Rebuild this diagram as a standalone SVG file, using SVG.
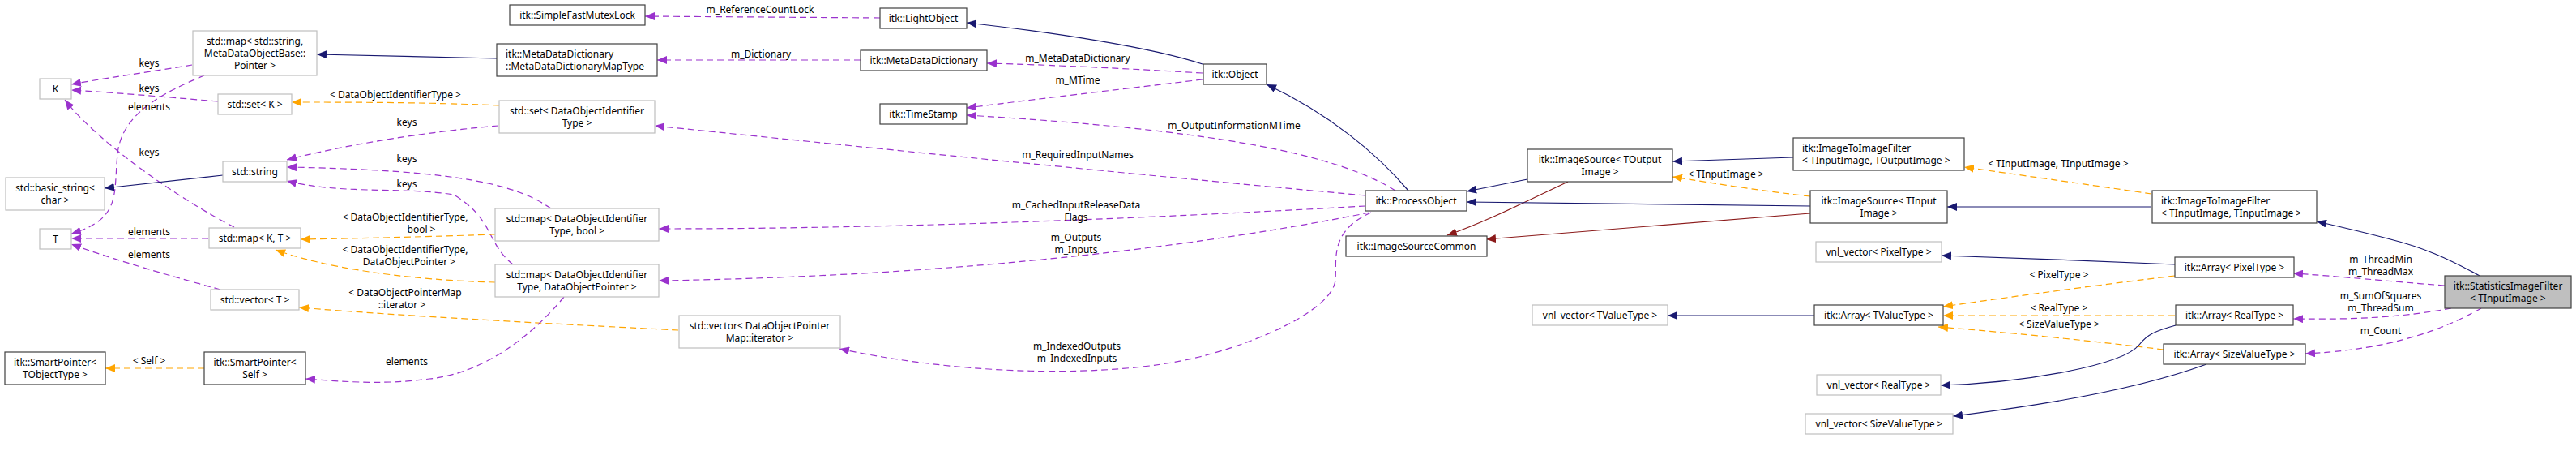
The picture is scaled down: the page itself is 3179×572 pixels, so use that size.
<svg xmlns="http://www.w3.org/2000/svg" width="3179" height="572" viewBox="0 0 3179 572">
<style>
text{font-family:"Noto Sans","DejaVu Sans",sans-serif;font-size:12px;fill:#000}
.n rect{fill:#fff;stroke:#404040;stroke-width:1.2}
.g rect{fill:#fff;stroke:#bfbfbf;stroke-width:1.2}
.c{text-anchor:middle}
.e{fill:none;stroke-width:1.2}
.b{stroke:#191970}
.r{stroke:#8b1a1a}
.p{stroke:#9a32cd;stroke-dasharray:8,5}
.o{stroke:#ffa500;stroke-dasharray:8,5}
.l{text-anchor:middle}
</style>
<defs>
<marker id="mb" markerWidth="12" markerHeight="10" refX="12" refY="5" orient="auto" markerUnits="userSpaceOnUse"><path d="M0,0L12,5L0,10z" fill="#191970"/></marker>
<marker id="mr" markerWidth="12" markerHeight="10" refX="12" refY="5" orient="auto" markerUnits="userSpaceOnUse"><path d="M0,0L12,5L0,10z" fill="#8b1a1a"/></marker>
<marker id="mp" markerWidth="12" markerHeight="10" refX="12" refY="5" orient="auto" markerUnits="userSpaceOnUse"><path d="M0,0L12,5L0,10z" fill="#9a32cd"/></marker>
<marker id="mo" markerWidth="12" markerHeight="10" refX="12" refY="5" orient="auto" markerUnits="userSpaceOnUse"><path d="M0,0L12,5L0,10z" fill="#ffa500"/></marker>
</defs>
<g id="connectors">
<path class="e b" marker-end="url(#mb)" d="M613,72 L391,67"/>
<path class="e p" marker-end="url(#mp)" d="M237,80 C190,88 130,96 88,104"/>
<text class="l" x="184" y="82">keys</text>
<path class="e p" marker-end="url(#mp)" d="M269,125 C210,120 140,114 88,111"/>
<text class="l" x="184" y="113">keys</text>
<path class="e p" marker-end="url(#mp)" d="M252,93 C200,115 150,140 145,190 C140,240 150,270 88,288"/>
<text class="l" x="184" y="136">elements</text>
<path class="e p" marker-end="url(#mp)" d="M289,280 C220,245 120,175 80,123"/>
<text class="l" x="184" y="192">keys</text>
<path class="e p" marker-end="url(#mp)" d="M257,294 L88,294"/>
<text class="l" x="184" y="290">elements</text>
<path class="e p" marker-end="url(#mp)" d="M272,357 C210,340 140,320 88,301"/>
<text class="l" x="184" y="318">elements</text>
<path class="e b" marker-end="url(#mb)" d="M275,216 L129,232"/>
<path class="e o" marker-end="url(#mo)" d="M616,130 C530,126 430,126 360,126"/>
<text class="l" x="488" y="121">&lt; DataObjectIdentifierType &gt;</text>
<path class="e p" marker-end="url(#mp)" d="M615,155 C520,163 420,180 354,197"/>
<text class="l" x="502" y="155">keys</text>
<path class="e p" marker-end="url(#mp)" d="M680,257 C640,230 580,210 354,206"/>
<text class="l" x="502" y="200">keys</text>
<path class="e p" marker-end="url(#mp)" d="M633,326 C600,300 610,270 560,240 C500,230 420,240 354,223"/>
<text class="l" x="502" y="231">keys</text>
<path class="e o" marker-end="url(#mo)" d="M611,289 C520,292 440,294 371,295"/>
<text class="l" x="500" y="272">&lt; DataObjectIdentifierType,</text>
<text class="l" x="520" y="287">bool &gt;</text>
<path class="e o" marker-end="url(#mo)" d="M611,348 C500,345 400,330 340,308"/>
<text class="l" x="500" y="312">&lt; DataObjectIdentifierType,</text>
<text class="l" x="505" y="327">DataObjectPointer &gt;</text>
<path class="e o" marker-end="url(#mo)" d="M837,407 C700,400 500,390 369,379"/>
<text class="l" x="500" y="365">&lt; DataObjectPointerMap</text>
<text class="l" x="496" y="380">::iterator &gt;</text>
<path class="e p" marker-end="url(#mp)" d="M696,366 C660,410 600,460 530,467 C470,475 420,470 377,467"/>
<text class="l" x="502" y="450">elements</text>
<path class="e o" marker-end="url(#mo)" d="M252,454 L130,454"/>
<text class="l" x="184" y="449">&lt; Self &gt;</text>
<path class="e p" marker-end="url(#mp)" d="M1086,22 L796,20"/>
<text class="l" x="938" y="16">m_ReferenceCountLock</text>
<path class="e p" marker-end="url(#mp)" d="M1484,90 C1400,85 1300,80 1218,78"/>
<text class="l" x="1330" y="76">m_MetaDataDictionary</text>
<path class="e p" marker-end="url(#mp)" d="M1062,74 L811,74"/>
<text class="l" x="939" y="71">m_Dictionary</text>
<path class="e p" marker-end="url(#mp)" d="M1484,98 C1400,108 1280,122 1193,133"/>
<text class="l" x="1330" y="103">m_MTime</text>
<path class="e b" marker-end="url(#mb)" d="M1484,79 C1420,58 1300,40 1193,28"/>
<path class="e b" marker-end="url(#mb)" d="M1738,235 C1700,190 1640,140 1563,104"/>
<path class="e p" marker-end="url(#mp)" d="M1722,235 C1650,190 1500,160 1193,142"/>
<text class="l" x="1523" y="159">m_OutputInformationMTime</text>
<path class="e p" marker-end="url(#mp)" d="M1685,241 C1400,215 1100,185 808,155"/>
<text class="l" x="1330" y="195">m_RequiredInputNames</text>
<path class="e p" marker-end="url(#mp)" d="M1685,254 C1400,270 1100,282 813,282"/>
<text class="l" x="1328" y="257">m_CachedInputReleaseData</text>
<text class="l" x="1328" y="272">Flags</text>
<path class="e p" marker-end="url(#mp)" d="M1690,262 C1500,300 1200,340 813,346"/>
<text class="l" x="1328" y="297">m_Outputs</text>
<text class="l" x="1328" y="312">m_Inputs</text>
<path class="e p" marker-end="url(#mp)" d="M1692,262 C1640,285 1650,320 1648,345 C1645,380 1560,420 1480,440 C1380,465 1200,465 1036,430"/>
<text class="l" x="1329" y="431">m_IndexedOutputs</text>
<text class="l" x="1329" y="446">m_IndexedInputs</text>
<path class="e b" marker-end="url(#mb)" d="M1885,221 L1810,236"/>
<path class="e r" marker-end="url(#mr)" d="M1935,224 C1880,250 1830,275 1786,290"/>
<path class="e b" marker-end="url(#mb)" d="M2234,254 L1810,249"/>
<path class="e r" marker-end="url(#mr)" d="M2234,263 L1834,295"/>
<path class="e o" marker-end="url(#mo)" d="M2234,242 C2170,235 2110,225 2064,218"/>
<text class="l" x="2130" y="219">&lt; TInputImage &gt;</text>
<path class="e b" marker-end="url(#mb)" d="M2213,194 L2064,199"/>
<path class="e o" marker-end="url(#mo)" d="M2655,239 C2580,228 2480,214 2424,206"/>
<text class="l" x="2540" y="206">&lt; TInputImage, TInputImage &gt;</text>
<path class="e b" marker-end="url(#mb)" d="M2655,255 L2403,255"/>
<path class="e b" marker-end="url(#mb)" d="M3060,340 C3020,318 2990,305 2950,295 C2920,287 2890,280 2859,273"/>
<path class="e p" marker-end="url(#mp)" d="M3017,352 C2950,347 2880,340 2830,337"/>
<text class="l" x="2938" y="324">m_ThreadMin</text>
<text class="l" x="2938" y="339">m_ThreadMax</text>
<path class="e p" marker-end="url(#mp)" d="M3025,380 C2960,392 2900,394 2830,393"/>
<text class="l" x="2938" y="369">m_SumOfSquares</text>
<text class="l" x="2938" y="384">m_ThreadSum</text>
<path class="e p" marker-end="url(#mp)" d="M3062,380 C3000,415 2930,432 2845,436"/>
<text class="l" x="2938" y="412">m_Count</text>
<path class="e b" marker-end="url(#mb)" d="M2684,326 C2600,322 2480,318 2396,315"/>
<path class="e o" marker-end="url(#mo)" d="M2684,340 C2600,350 2480,366 2398,378"/>
<text class="l" x="2541" y="343">&lt; PixelType &gt;</text>
<path class="e o" marker-end="url(#mo)" d="M2684,389 L2398,389"/>
<text class="l" x="2541" y="384">&lt; RealType &gt;</text>
<path class="e o" marker-end="url(#mo)" d="M2670,431 C2580,420 2480,410 2392,403"/>
<text class="l" x="2541" y="404">&lt; SizeValueType &gt;</text>
<path class="e b" marker-end="url(#mb)" d="M2685,401 C2660,408 2650,412 2640,425 C2620,450 2500,472 2395,475"/>
<path class="e b" marker-end="url(#mb)" d="M2723,449 C2660,472 2560,495 2410,513"/>
<path class="e b" marker-end="url(#mb)" d="M2239,389 L2058,389"/>
</g>
<g id="n_mapstr" class="g"><rect x="238" y="38" width="153" height="55"/><text class="c" x="314.5" y="55">std::map&lt; std::string,</text><text class="c" x="314.5" y="70">MetaDataObjectBase::</text><text class="c" x="314.5" y="85">Pointer &gt;</text></g>
<g id="n_K" class="g"><rect x="49" y="97" width="39" height="25"/><text class="c" x="68.5" y="114">K</text></g>
<g id="n_setK" class="g"><rect x="269" y="116" width="91" height="25"/><text class="c" x="314.5" y="133">std::set&lt; K &gt;</text></g>
<g id="n_string" class="g"><rect x="275" y="199" width="79" height="25"/><text class="c" x="314.5" y="216">std::string</text></g>
<g id="n_basic" class="g"><rect x="7" y="219" width="122" height="40"/><text class="c" x="68" y="236">std::basic_string&lt;</text><text class="c" x="68" y="251">char &gt;</text></g>
<g id="n_T" class="g"><rect x="49" y="282" width="39" height="25"/><text class="c" x="68.5" y="299">T</text></g>
<g id="n_mapKT" class="g"><rect x="258" y="281" width="113" height="25"/><text class="c" x="314.5" y="298">std::map&lt; K, T &gt;</text></g>
<g id="n_vecT" class="g"><rect x="260" y="357" width="109" height="25"/><text class="c" x="314.5" y="374">std::vector&lt; T &gt;</text></g>
<g id="n_spT" class="n"><rect x="6" y="434" width="124" height="40"/><text class="c" x="68" y="451">itk::SmartPointer&lt;</text><text class="c" x="68" y="466">TObjectType &gt;</text></g>
<g id="n_spS" class="n"><rect x="252" y="434" width="125" height="40"/><text class="c" x="314.5" y="451">itk::SmartPointer&lt;</text><text class="c" x="314.5" y="466">Self &gt;</text></g>
<g id="n_mutex" class="n"><rect x="629" y="6" width="167" height="25"/><text class="c" x="712.5" y="23">itk::SimpleFastMutexLock</text></g>
<g id="n_mdmap" class="n"><rect x="613" y="54" width="198" height="40"/><text x="624" y="71">itk::MetaDataDictionary</text><text x="624" y="86">::MetaDataDictionaryMapType</text></g>
<g id="n_setD" class="g"><rect x="616" y="124" width="192" height="40"/><text class="c" x="712" y="141">std::set&lt; DataObjectIdentifier</text><text class="c" x="712" y="156">Type &gt;</text></g>
<g id="n_mapDb" class="g"><rect x="611" y="257" width="202" height="40"/><text class="c" x="712" y="274">std::map&lt; DataObjectIdentifier</text><text class="c" x="712" y="289">Type, bool &gt;</text></g>
<g id="n_mapDP" class="g"><rect x="611" y="326" width="202" height="40"/><text class="c" x="712" y="343">std::map&lt; DataObjectIdentifier</text><text class="c" x="712" y="358">Type, DataObjectPointer &gt;</text></g>
<g id="n_vecD" class="g"><rect x="838" y="389" width="199" height="40"/><text class="c" x="937.5" y="406">std::vector&lt; DataObjectPointer</text><text class="c" x="937.5" y="421">Map::iterator &gt;</text></g>
<g id="n_light" class="n"><rect x="1086" y="10" width="107" height="25"/><text class="c" x="1139.5" y="27">itk::LightObject</text></g>
<g id="n_mdd" class="n"><rect x="1062" y="62" width="156" height="25"/><text class="c" x="1140" y="79">itk::MetaDataDictionary</text></g>
<g id="n_ts" class="n"><rect x="1086" y="128" width="107" height="25"/><text class="c" x="1139.5" y="145">itk::TimeStamp</text></g>
<g id="n_obj" class="n"><rect x="1485" y="79" width="78" height="25"/><text class="c" x="1524" y="96">itk::Object</text></g>
<g id="n_po" class="n"><rect x="1685" y="235" width="125" height="25"/><text class="c" x="1747.5" y="252">itk::ProcessObject</text></g>
<g id="n_isc" class="n"><rect x="1661" y="291" width="174" height="25"/><text class="c" x="1748" y="308">itk::ImageSourceCommon</text></g>
<g id="n_isO" class="n"><rect x="1885" y="184" width="179" height="40"/><text class="c" x="1974.5" y="201">itk::ImageSource&lt; TOutput</text><text class="c" x="1974.5" y="216">Image &gt;</text></g>
<g id="n_vnlT" class="g"><rect x="1891" y="376" width="167" height="25"/><text class="c" x="1974.5" y="393">vnl_vector&lt; TValueType &gt;</text></g>
<g id="n_itifO" class="n"><rect x="2213" y="170" width="211" height="40"/><text x="2224" y="187">itk::ImageToImageFilter</text><text x="2224" y="202">&lt; TInputImage, TOutputImage &gt;</text></g>
<g id="n_isI" class="n"><rect x="2234" y="235" width="169" height="40"/><text class="c" x="2318.5" y="252">itk::ImageSource&lt; TInput</text><text class="c" x="2318.5" y="267">Image &gt;</text></g>
<g id="n_vnlP" class="g"><rect x="2241" y="298" width="155" height="25"/><text class="c" x="2318.5" y="315">vnl_vector&lt; PixelType &gt;</text></g>
<g id="n_arrT" class="n"><rect x="2239" y="376" width="159" height="25"/><text class="c" x="2318.5" y="393">itk::Array&lt; TValueType &gt;</text></g>
<g id="n_vnlR" class="g"><rect x="2242" y="462" width="153" height="25"/><text class="c" x="2318.5" y="479">vnl_vector&lt; RealType &gt;</text></g>
<g id="n_vnlS" class="g"><rect x="2228" y="510" width="182" height="25"/><text class="c" x="2319" y="527">vnl_vector&lt; SizeValueType &gt;</text></g>
<g id="n_itifI" class="n"><rect x="2656" y="235" width="203" height="40"/><text x="2667" y="252">itk::ImageToImageFilter</text><text x="2667" y="267">&lt; TInputImage, TInputImage &gt;</text></g>
<g id="n_arrP" class="n"><rect x="2684" y="317" width="147" height="25"/><text class="c" x="2757.5" y="334">itk::Array&lt; PixelType &gt;</text></g>
<g id="n_arrR" class="n"><rect x="2685" y="376" width="145" height="25"/><text class="c" x="2757.5" y="393">itk::Array&lt; RealType &gt;</text></g>
<g id="n_arrS" class="n"><rect x="2670" y="424" width="175" height="25"/><text class="c" x="2757.5" y="441">itk::Array&lt; SizeValueType &gt;</text></g>
<g id="n_stats" class="n"><rect x="3017" y="340" width="156" height="40" style="fill:#bfbfbf"/><text class="c" x="3095" y="357">itk::StatisticsImageFilter</text><text class="c" x="3095" y="372">&lt; TInputImage &gt;</text></g>
</svg>
